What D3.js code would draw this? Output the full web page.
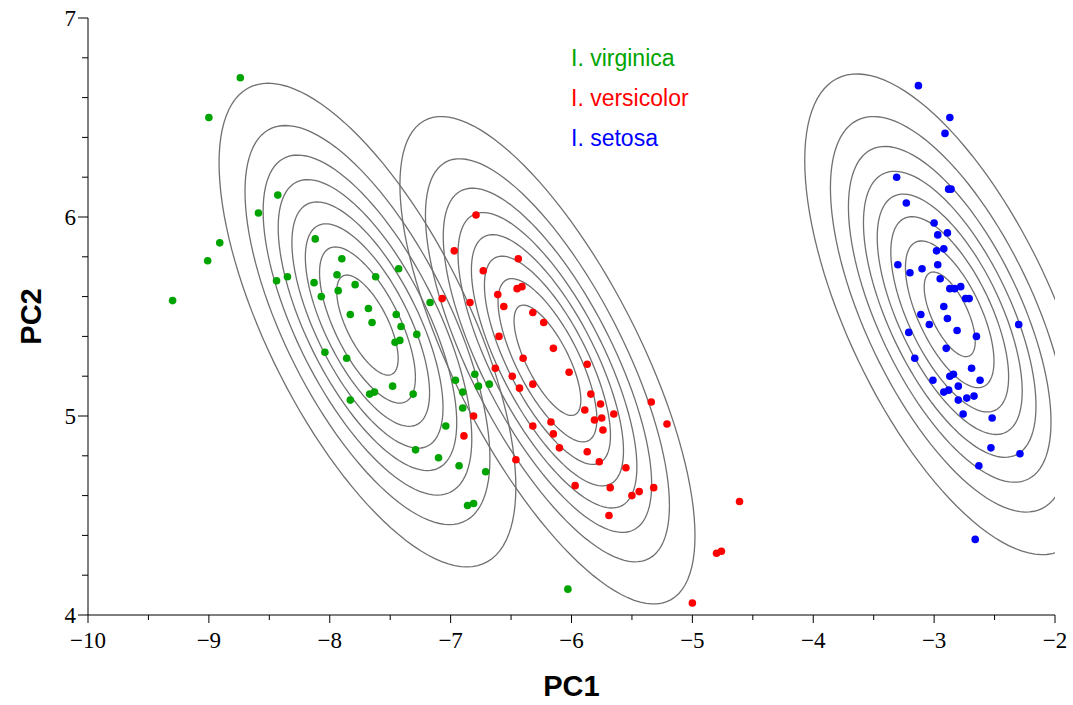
<!DOCTYPE html>
<html>
<head>
<meta charset="utf-8">
<script src="https://cdn.jsdelivr.net/npm/d3@7"></script>
<style>
  body { margin: 0; background: #fff; }
  .tick-label { font-family: "Liberation Serif", "Times New Roman", serif; font-size: 23px; }
  .axis-title { font-family: "Liberation Sans", Arial, sans-serif; font-size: 29px; font-weight: bold; }
  .legend { font-family: "Liberation Sans", Arial, sans-serif; font-size: 23px; }
</style>
</head>
<body>
<svg id="chart" width="1073" height="705"></svg>
<script>
// scores
const virginicaPC1 = [-8.74,-9.00,-8.43,-8.59,-8.91,-9.01,-9.30,-8.12,-7.90,-7.43,-7.94,-7.62,-8.44,-8.35,-8.13,-7.79,-7.93,-8.07,-7.17,-7.68,-7.83,-7.45,-7.65,-7.41,-7.28,-7.42,-7.46,-8.04,-7.86,-6.96,-7.48,-7.67,-7.63,-7.31,-6.90,-7.83,-6.90,-7.04,-7.29,-7.10,-6.93,-6.86,-6.80,-6.77,-6.68,-6.71,-6.81,-6.03];
const virginicaPC2 = [6.70,6.50,6.11,6.02,5.87,5.78,5.58,5.89,5.79,5.74,5.71,5.70,5.68,5.70,5.67,5.66,5.63,5.60,5.57,5.54,5.51,5.51,5.47,5.45,5.41,5.38,5.37,5.32,5.29,5.18,5.15,5.11,5.12,5.11,5.12,5.08,5.04,4.95,4.83,4.79,4.75,4.55,5.21,5.15,5.16,4.72,4.56,4.13];

const versicolorPC1 = [-6.79,-6.97,-6.44,-6.73,-6.45,-6.41,-7.07,-6.84,-6.61,-6.56,-6.32,-6.23,-6.60,-6.15,-6.40,-6.63,-6.49,-6.02,-5.87,-6.43,-6.32,-5.84,-5.76,-5.89,-5.65,-5.81,-5.75,-5.34,-5.21,-6.81,-6.32,-6.17,-5.74,-6.89,-6.46,-6.15,-6.10,-5.87,-5.77,-5.55,-5.97,-5.68,-5.50,-5.44,-5.32,-5.69,-4.61,-4.80,-4.76,-5.00];
const versicolorPC2 = [6.01,5.83,5.79,5.73,5.64,5.65,5.59,5.57,5.61,5.55,5.52,5.47,5.40,5.34,5.29,5.24,5.20,5.22,5.26,5.14,5.16,5.11,5.06,5.03,5.01,4.98,4.99,5.07,4.96,5.00,4.95,4.97,4.93,4.90,4.78,4.91,4.84,4.82,4.77,4.74,4.65,4.64,4.60,4.62,4.64,4.50,4.57,4.31,4.32,4.06];

const setosaPC1 = [-3.13,-2.87,-2.91,-3.31,-2.88,-2.86,-3.23,-3.00,-2.97,-2.89,-2.98,-2.92,-3.30,-2.97,-3.20,-3.10,-2.95,-2.87,-2.83,-2.78,-2.74,-2.71,-2.92,-3.11,-2.89,-3.04,-3.21,-2.81,-2.65,-2.30,-2.90,-3.16,-2.69,-2.62,-2.87,-2.84,-3.01,-2.80,-2.92,-2.88,-2.80,-2.73,-2.67,-2.76,-2.52,-2.53,-2.29,-2.63,-2.66];
const setosaPC2 = [6.66,6.50,6.42,6.20,6.14,6.14,6.07,5.97,5.91,5.92,5.83,5.84,5.76,5.76,5.72,5.74,5.69,5.64,5.64,5.65,5.59,5.59,5.55,5.51,5.49,5.46,5.42,5.43,5.40,5.46,5.34,5.29,5.24,5.18,5.20,5.21,5.18,5.15,5.12,5.13,5.08,5.09,5.10,5.01,4.99,4.84,4.81,4.75,4.38];

// fitted gaussian per species, in the order virginica, versicolor, setosa
const speciesNames = ['I. virginica', 'I. versicolor', 'I. setosa'];
const speciesColors = ['#00a400', '#ff0000', '#0000ff'];
const meanPC1 = [-7.688, -6.199, -2.871];
const meanPC2 = [5.457, 5.280, 5.511];
const sdPC1 = [0.589, 0.583, 0.579];
const sdPC2 = [0.583, 0.585, 0.583];
const corr = [-0.67, -0.72, -0.64];
const peakOverStep = [8.78, 8.95, 8.55]; // peak density in units of the contour step
const contourLevels = [1, 2, 3, 4, 5, 6, 7, 8];

const xTicks = [-10, -9, -8, -7, -6, -5, -4, -3, -2];
const yTicks = [4, 5, 6, 7];

const svg = d3.select('#chart');
const x = d3.scaleLinear().domain([-10, -2]).range([88, 1055]);
const y = d3.scaleLinear().domain([4, 7]).range([615, 18]);

svg.append('clipPath').attr('id', 'plot-clip')
    .append('rect')
    .attr('x', x(-10)).attr('y', y(7))
    .attr('width', x(-2) - x(-10)).attr('height', y(4) - y(7));

// contour ellipses
const contourG = svg.append('g').attr('clip-path', 'url(#plot-clip)');
const line = d3.line().x(d => x(d[0])).y(d => y(d[1]));
const angles = d3.range(0, 361, 3).map(a => a * Math.PI / 180);

speciesNames.forEach((name, i) => {
    contourLevels.forEach(k => {
        const r = Math.sqrt(2 * Math.log(peakOverStep[i] / k));
        const s = Math.sqrt(1 - corr[i] * corr[i]);
        const pts = angles.map(t => {
            const u = Math.cos(t), v = Math.sin(t);
            return [meanPC1[i] + r * sdPC1[i] * u,
                    meanPC2[i] + r * sdPC2[i] * (corr[i] * u + s * v)];
        });
        contourG.append('path')
            .attr('d', line(pts))
            .attr('fill', 'none')
            .attr('stroke', '#707070')
            .attr('stroke-width', 1.3);
    });
});

// points
const groups = [
    [virginicaPC1, virginicaPC2],
    [versicolorPC1, versicolorPC2],
    [setosaPC1, setosaPC2]
];
groups.forEach((g, i) => {
    svg.append('g')
        .selectAll('circle')
        .data(g[0].map((v, j) => [v, g[1][j]]))
        .enter()
        .append('circle')
        .attr('cx', d => x(d[0]))
        .attr('cy', d => y(d[1]))
        .attr('r', 3.8)
        .attr('fill', speciesColors[i]);
});

// axes
const axisG = svg.append('g').attr('stroke', '#000').attr('stroke-width', 1);
axisG.append('line').attr('x1', x(-10)).attr('x2', x(-2)).attr('y1', y(4)).attr('y2', y(4));
axisG.append('line').attr('x1', x(-10)).attr('x2', x(-10)).attr('y1', y(4)).attr('y2', y(7));

const xMinor = d3.range(-10, -1.99, 0.5);
axisG.selectAll('.xt')
    .data(xMinor)
    .enter()
    .append('line')
    .attr('x1', d => x(d)).attr('x2', d => x(d))
    .attr('y1', y(4))
    .attr('y2', d => y(4) + (Number.isInteger(d) ? 8 : 5));

const yMinor = d3.range(4, 7.01, 0.2);
axisG.selectAll('.yt')
    .data(yMinor)
    .enter()
    .append('line')
    .attr('y1', d => y(d)).attr('y2', d => y(d))
    .attr('x1', x(-10))
    .attr('x2', d => x(-10) - (Math.abs(d - Math.round(d)) < 1e-6 ? 10 : 6));

svg.selectAll('.xl')
    .data(xTicks)
    .enter()
    .append('text')
    .attr('class', 'tick-label')
    .attr('x', d => x(d))
    .attr('y', 648)
    .attr('text-anchor', 'middle')
    .text(d => d3.format('')(d).replace('-', '\u2212'));

svg.selectAll('.yl')
    .data(yTicks)
    .enter()
    .append('text')
    .attr('class', 'tick-label')
    .attr('x', 76)
    .attr('y', d => y(d) + 8)
    .attr('text-anchor', 'end')
    .text(d => d);

svg.append('text')
    .attr('class', 'axis-title')
    .attr('x', x(-6))
    .attr('y', 696)
    .attr('text-anchor', 'middle')
    .text('PC1');

svg.append('text')
    .attr('class', 'axis-title')
    .attr('transform', 'translate(41,' + y(5.5) + ') rotate(-90)')
    .attr('text-anchor', 'middle')
    .text('PC2');

// legend
svg.selectAll('.legend')
    .data(speciesNames)
    .enter()
    .append('text')
    .attr('class', 'legend')
    .attr('x', 571)
    .attr('y', (d, i) => 66 + i * 40)
    .attr('fill', (d, i) => speciesColors[i])
    .text(d => d);
</script>
</body>
</html>
